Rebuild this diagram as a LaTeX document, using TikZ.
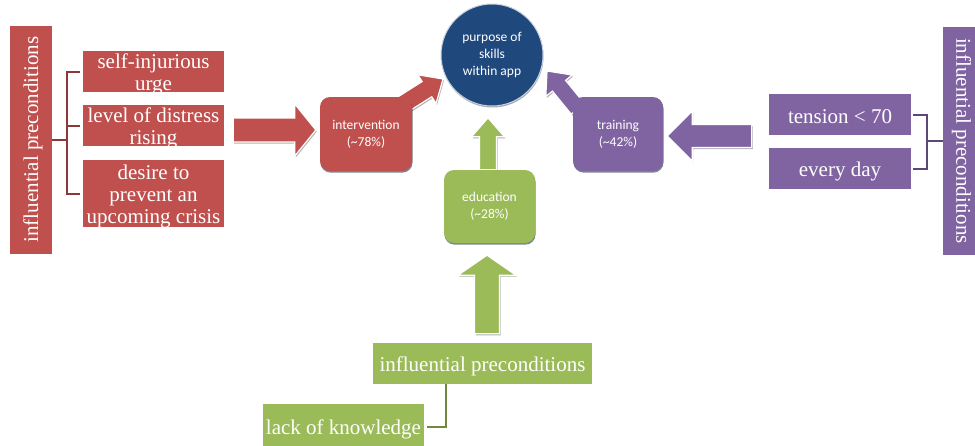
\documentclass[tikz,border=0pt]{standalone}
\usepackage{fontspec}
\setmainfont{Liberation Serif}
\newfontfamily\uisans{Carlito}
\usetikzlibrary{calc,shadows}

\definecolor{cred}{HTML}{C0504D}
\definecolor{cblue}{HTML}{1F497D}
\definecolor{cgreen}{HTML}{9BBB59}
\definecolor{cpurple}{HTML}{8064A2}
\definecolor{credd}{HTML}{8C3836}
\definecolor{cpurd}{HTML}{5C4776}
\definecolor{cgrnd}{HTML}{71893F}

\pgfdeclarelayer{back}
\pgfsetlayers{back,main}

% block arrow: #1 colour, #2 start, #3 tip, #4 half shaft width, #5 half head width, #6 head length
\newcommand{\blockarrow}[6]{%
  \coordinate (ba-s) at (#2);
  \coordinate (ba-e) at (#3);
  \coordinate (ba-h) at ($(ba-e)!#6!(ba-s)$);
  \filldraw[fill=#1, draw=white, line width=1.2pt, line join=miter,
    drop shadow={shadow xshift=1pt, shadow yshift=-1.5pt, opacity=.3, fill=black}]
    ($(ba-s)!#4!90:(ba-e)$) -- ($(ba-h)!#4!90:(ba-e)$) -- ($(ba-h)!#5!90:(ba-e)$)
    -- (ba-e) -- ($(ba-h)!#5!-90:(ba-e)$) -- ($(ba-h)!#4!-90:(ba-e)$)
    -- ($(ba-s)!#4!-90:(ba-e)$) -- cycle;
}
% fixed-size text cell: #1 width, #2 height, #3 text (set slightly low, as in the boxes)
\newcommand{\cellbox}[3]{\parbox[c][#2pt][c]{#1pt}{\vspace*{5pt}\centering #3}}

\begin{document}
\begin{tikzpicture}[x=1pt,y=-1pt,
  serifbox/.style={rectangle, inner sep=0pt, text=white, font=\fontsize{21}{22}\selectfont},
  redbox/.style={serifbox, fill=cred},
  purbox/.style={serifbox, fill=cpurple},
  grnbox/.style={serifbox, fill=cgreen},
  roundbox/.style={rectangle, rounded corners=10pt, inner sep=0pt, text=white, align=center,
    font=\uisans\fontsize{13.5}{17}\selectfont,
    drop shadow={shadow xshift=0.5pt, shadow yshift=-1.6pt, opacity=.55, fill=black!55!cblue}},
  brk/.style={line width=2pt},
]
\useasboundingbox (0,0) rectangle (975,445);

% left group (red)
\node[redbox, rotate=90] (lv) at (30.5,139.5) {\cellbox{228}{42}{influential preconditions}};
\node[redbox] (r1) at (153.5,71.5) {\cellbox{141}{41}{self-injurious\\urge}};
\node[redbox] (r2) at (153.5,125.5) {\cellbox{141}{41}{level of distress\\rising}};
\node[redbox] (r3) at (153.5,193.5) {\cellbox{141}{67}{desire to\\prevent an\\upcoming crisis}};

% right group (purple)
\node[purbox, rotate=-90] (rv) at (964,141) {\cellbox{228}{42}{influential preconditions}};
\node[purbox] (p1) at (840,114.5) {\cellbox{142}{41}{tension < 70}};
\node[purbox] (p2) at (840,168.5) {\cellbox{142}{41}{every day}};

% bottom group (green)
\node[grnbox] (ip) at (482.5,363.5) {\cellbox{219}{41}{influential preconditions}};
\node[grnbox] (lk) at (343.5,427) {\cellbox{161}{46}{lack of knowledge}};

% centre
\node[circle, fill=cblue, draw=white!75!cblue, line width=1pt, minimum size=102pt, inner sep=0pt,
  text=white, align=center, font=\uisans\fontsize{13.5}{17}\selectfont,
  drop shadow={shadow xshift=0.5pt, shadow yshift=-1.5pt, opacity=.35, fill=black}]
  (circ) at (492,55) {purpose of\\skills\\within app};
\node[roundbox, fill=cred, minimum width=92pt, minimum height=74pt] (iv) at (366,134) {intervention\\(\textasciitilde78\%)};
\node[roundbox, fill=cpurple, minimum width=90pt, minimum height=74pt] (tr) at (618,134) {training\\(\textasciitilde42\%)};
\node[roundbox, fill=cgreen, minimum width=91pt, minimum height=73pt] (ed) at (489.5,206.5) {education\\(\textasciitilde28\%)};

% block arrows, behind the boxes
\begin{pgfonlayer}{back}
  \blockarrow{cred}{[xshift=9pt,yshift=-4.5pt]r2.east}{[xshift=-4pt,yshift=4pt]iv.west}{12pt}{26pt}{21pt}
  \blockarrow{cpurple}{[xshift=-17pt,yshift=-21.5pt]p1.west}{[xshift=4pt,yshift=-2pt]tr.east}{11.5pt}{25pt}{25pt}
  \blockarrow{cgreen}{[xshift=4.5pt,yshift=9pt]ip.north}{[xshift=-2.5pt,yshift=-12pt]ed.south}{12.5pt}{29pt}{20pt}
  \blockarrow{cgreen}{[xshift=-1.5pt]ed.north}{[xshift=-1.5pt,yshift=52pt]ed.north}{8.5pt}{16.5pt}{19pt}
  \blockarrow{cred}{[xshift=-10pt,yshift=-8pt]iv.north east}{[xshift=-49pt,yshift=-24pt]circ.center}{9pt}{17pt}{19pt}
  \blockarrow{cpurple}{[xshift=5pt,yshift=-12pt]tr.north west}{[xshift=55pt,yshift=-16pt]circ.center}{8.5pt}{17pt}{19pt}
\end{pgfonlayer}

% brackets
\draw[brk, credd] ([xshift=-3pt]r1.west) -- ++(-13,0) |- ([xshift=-3pt]r3.west);
\draw[brk, credd] ([xshift=-3pt]r2.west) -- ++(-13,0);
\draw[brk, credd] (lv.south) -- ++(15.5,0);
\draw[brk, cpurd] ([xshift=2pt]p1.east) -- ++(14,0) |- ([xshift=2pt]p2.east);
\draw[brk, cpurd] (rv.south) -- ++(-16,0);
\draw[brk, cgrnd] ([xshift=-36.5pt]ip.south) |- ([xshift=3pt]lk.east);
\end{tikzpicture}
\end{document}
